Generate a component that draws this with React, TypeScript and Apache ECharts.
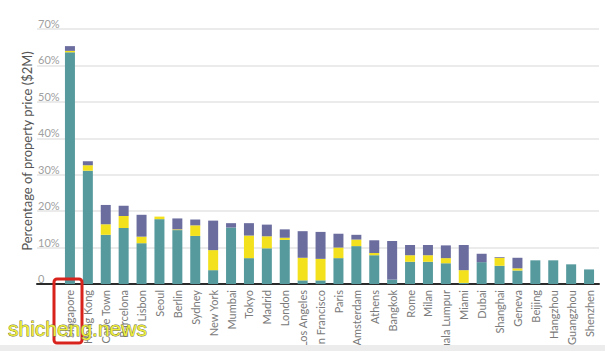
import React, { useEffect, useRef } from "react";
import * as echarts from "echarts";

const cities = ["Singapore", "Hong Kong", "Cape Town", "Barcelona", "Lisbon", "Seoul", "Berlin", "Sydney", "New York", "Mumbai", "Tokyo", "Madrid", "London", "Los Angeles", "San Francisco", "Paris", "Amsterdam", "Athens", "Bangkok", "Rome", "Milan", "Kuala Lumpur", "Miami", "Dubai", "Shanghai", "Geneva", "Beijing", "Hangzhou", "Guangzhou", "Shenzhen"];
const tealValues = [63.6, 31.1, 13.5, 15.4, 11.2, 17.8, 14.8, 13.2, 3.8, 15.5, 7.1, 9.8, 12.1, 1.0, 1.0, 7.1, 10.4, 7.9, 1.2, 6.1, 6.1, 5.7, 0.3, 6.0, 5.0, 3.7, 6.5, 6.5, 5.4, 4.0];
const yellowValues = [0.4, 1.5, 2.9, 3.3, 1.8, 0.7, 0.2, 2.9, 5.5, 0, 6.2, 3.3, 0.6, 6.2, 5.9, 2.9, 1.8, 0.6, 0, 1.8, 1.8, 1.4, 3.5, 0, 2.2, 0.6, 0, 0, 0, 0];
const purpleValues = [1.3, 1.1, 5.3, 2.8, 6.0, 0, 3.0, 1.6, 8.1, 1.2, 3.4, 3.2, 2.3, 7.3, 7.4, 3.8, 1.3, 3.5, 10.6, 2.8, 2.8, 3.5, 6.9, 2.3, 0.2, 2.9, 0, 0, 0, 0];
const yAxisTitle = "Percentage of property price ($2M)";
const watermark = "shicheng.news";

export default function App() {
  const ref = useRef<HTMLDivElement>(null);
  useEffect(() => {
    if (!ref.current) return;
    const chart = echarts.init(ref.current, undefined, { renderer: "svg" });
    const font = "Lato, 'Open Sans', sans-serif";
    chart.setOption({
      animation: false,
      backgroundColor: "#ffffff",
      textStyle: { fontFamily: font },
      grid: [
        { left: 37, right: 12, top: 29, bottom: 61, outerBoundsMode: "none", containLabel: false },
        { left: 61, right: 13, top: 29, bottom: 61, outerBoundsMode: "none", containLabel: false },
      ],
      xAxis: [
        {
          gridIndex: 0,
          type: "value",
          min: 0,
          max: 1,
          axisLine: { show: true, lineStyle: { color: "#2b2b2b", width: 2 } },
          axisTick: { show: false },
          axisLabel: { show: false },
          splitLine: { show: false },
        },
        {
          gridIndex: 1,
          type: "category",
          data: cities,
          axisLine: { show: false },
          axisTick: { show: false },
          axisLabel: {
            interval: 0,
            rotate: 90,
            margin: 6,
            color: "#7a7a7a",
            fontSize: 11,
            fontFamily: font,
          },
        },
      ],
      yAxis: [
        {
          gridIndex: 0,
          type: "value",
          min: 0,
          max: 70,
          interval: 10,
          axisLine: { show: false },
          axisTick: { show: false },
          splitLine: { show: true, lineStyle: { color: "#e4e4e4", width: 1.5 } },
          axisLabel: {
            inside: true,
            margin: 1,
            verticalAlign: "bottom",
            color: "#a0a0a0",
            fontSize: 11,
            fontFamily: font,
            formatter: (v: number) => (v === 0 ? "0" : v + "%"),
          },
        },
        {
          gridIndex: 1,
          type: "value",
          min: 0,
          max: 70,
          interval: 10,
          show: false,
          splitLine: { show: false },
        },
      ],
      series: [
        {
          name: "Segment 1",
          type: "bar",
          stack: "total",
          xAxisIndex: 1,
          yAxisIndex: 1,
          barWidth: 10,
          itemStyle: { color: "#579a9e" },
          data: tealValues,
        },
        {
          name: "Segment 2",
          type: "bar",
          stack: "total",
          xAxisIndex: 1,
          yAxisIndex: 1,
          barWidth: 10,
          itemStyle: { color: "#f3e11e" },
          data: yellowValues,
        },
        {
          name: "Segment 3",
          type: "bar",
          stack: "total",
          xAxisIndex: 1,
          yAxisIndex: 1,
          barWidth: 10,
          itemStyle: { color: "#6b6d9f" },
          data: purpleValues,
        },
      ],
      graphic: [
        {
          type: "text",
          x: 27,
          y: 151,
          rotation: Math.PI / 2,
          style: {
            text: yAxisTitle,
            fill: "#555",
            fontSize: 13,
            fontFamily: font,
            align: "center",
            verticalAlign: "middle",
          },
        },
        {
          type: "rect",
          shape: { x: 54, y: 279, width: 28, height: 64, r: 3 },
          style: { fill: "none", stroke: "#d8231c", lineWidth: 3 },
          z: 100,
        },
        {
          type: "text",
          x: 8,
          y: 318,
          style: {
            text: watermark,
            fill: "#ecec3a",
            stroke: "#6b6b40",
            lineWidth: 0.8,
            fontSize: 21,
            fontFamily: "'Liberation Sans', Arial, sans-serif",
            verticalAlign: "top",
          },
          z: 101,
        },
      ],
    });
    return () => chart.dispose();
  }, []);
  return (
    <div style={{ position: "fixed", left: 0, top: 0, width: 611, height: 351, background: "#fff" }}>
      <div ref={ref} style={{ width: 611, height: 345 }} />
      <div style={{ width: 605, height: 6, background: "#ececec" }} />
    </div>
  );
}
